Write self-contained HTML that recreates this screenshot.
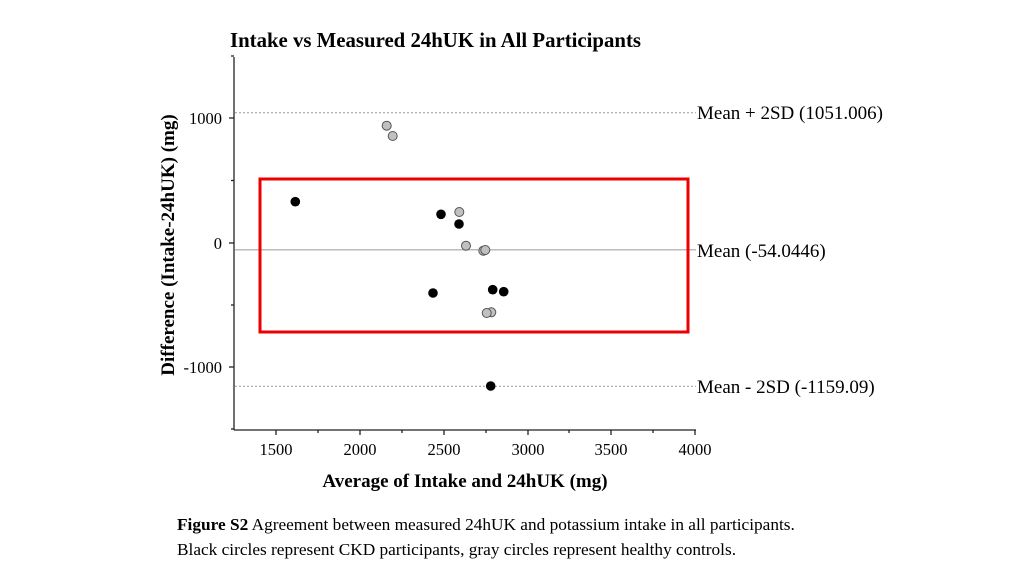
<!DOCTYPE html>
<html><head><style>body{margin:0;background:#fff}svg{display:block}text{font-family:"Liberation Serif",serif}</style></head>
<body>
<svg width="1024" height="576" viewBox="0 0 1024 576">
<rect width="1024" height="576" fill="#fff"/>
<text x="230" y="47" font-size="20.8" font-weight="bold">Intake vs Measured 24hUK in All Participants</text>
<line x1="235" y1="112.7" x2="696" y2="112.7" stroke="#999" stroke-dasharray="2,2"/>
<line x1="235" y1="249.7" x2="696" y2="249.7" stroke="#bbb" stroke-width="1.5"/>
<line x1="235" y1="386.3" x2="696" y2="386.3" stroke="#999" stroke-dasharray="2,2"/>
<text x="697" y="119" font-size="19">Mean + 2SD (1051.006)</text>
<text x="697" y="257" font-size="19">Mean (-54.0446)</text>
<text x="697" y="393" font-size="19">Mean - 2SD (-1159.09)</text>
<g stroke="#222" stroke-width="1.3" fill="none">
<line x1="234" y1="57" x2="234" y2="430"/>
<line x1="234" y1="430" x2="696" y2="430"/>
<line x1="229" y1="118" x2="234" y2="118"/><line x1="229" y1="243" x2="234" y2="243"/><line x1="229" y1="367" x2="234" y2="367"/>
<line x1="231" y1="180.5" x2="234" y2="180.5"/><line x1="231" y1="305" x2="234" y2="305"/><line x1="231" y1="56" x2="234" y2="56"/><line x1="231" y1="429" x2="234" y2="429"/>
<line x1="276" y1="430" x2="276" y2="435"/><line x1="360" y1="430" x2="360" y2="435"/><line x1="444" y1="430" x2="444" y2="435"/><line x1="528" y1="430" x2="528" y2="435"/><line x1="611" y1="430" x2="611" y2="435"/><line x1="695" y1="430" x2="695" y2="435"/>
<line x1="318" y1="430" x2="318" y2="433"/><line x1="402" y1="430" x2="402" y2="433"/><line x1="486" y1="430" x2="486" y2="433"/><line x1="569" y1="430" x2="569" y2="433"/><line x1="653" y1="430" x2="653" y2="433"/>
</g>
<g font-size="16.5" text-anchor="end">
<text x="222" y="124">1000</text><text x="222" y="249">0</text><text x="222" y="373">-1000</text>
</g>
<g font-size="16.5" text-anchor="middle">
<text x="276" y="455">1500</text><text x="360" y="455">2000</text><text x="444" y="455">2500</text><text x="528" y="455">3000</text><text x="611" y="455">3500</text><text x="695" y="455">4000</text>
</g>
<text x="465" y="487" font-size="19" font-weight="bold" text-anchor="middle">Average of Intake and 24hUK (mg)</text>
<text transform="translate(174,245) rotate(-90)" font-size="19" font-weight="bold" text-anchor="middle">Difference (Intake-24hUK) (mg)</text>
<g fill="#c0c0c0" stroke="#555" stroke-width="1">
<circle cx="386.7" cy="125.7" r="4.5"/><circle cx="392.7" cy="136" r="4.5"/>
<circle cx="459.3" cy="212" r="4.5"/><circle cx="466" cy="245.7" r="4.5"/>
<circle cx="483.3" cy="250.7" r="4.5"/><circle cx="485.3" cy="250" r="4.5"/>
<circle cx="491.3" cy="312.3" r="4.5"/><circle cx="486.7" cy="313" r="4.5"/>
</g>
<g fill="#000">
<circle cx="295.3" cy="201.7" r="4.8"/><circle cx="441" cy="214.3" r="4.8"/><circle cx="459" cy="224" r="4.8"/>
<circle cx="433" cy="293" r="4.8"/><circle cx="492.7" cy="289.7" r="4.8"/><circle cx="503.7" cy="291.7" r="4.8"/>
<circle cx="490.7" cy="386" r="4.8"/>
</g>
<rect x="260" y="179" width="428" height="153" fill="none" stroke="#e00" stroke-width="3"/>
<text x="177" y="530" font-size="17.3"><tspan font-weight="bold">Figure S2</tspan> Agreement between measured 24hUK and potassium intake in all participants.</text>
<text x="177" y="555" font-size="17.3">Black circles represent CKD participants, gray circles represent healthy controls.</text>
</svg>
</body></html>
